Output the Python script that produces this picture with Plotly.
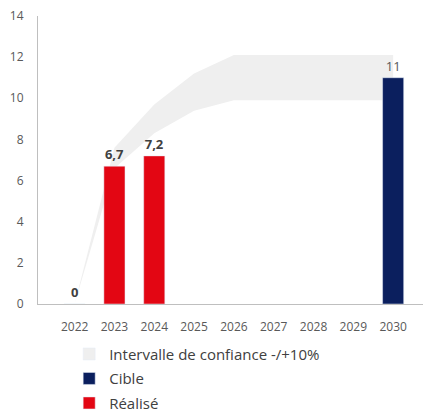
import plotly.graph_objects as go

years = [2022, 2023, 2024, 2025, 2026, 2027, 2028, 2029, 2030]
realise = [0, 6.7, 7.2, None, None, None, None, None, None]
cible = [None, None, None, None, None, None, None, None, 11]
band_low = [0, 6.6, 8.3, 9.4, 9.9, 9.9, 9.9, 9.9, 9.9]
band_high = [0, 7.6, 9.7, 11.2, 12.1, 12.1, 12.1, 12.1, 12.1]
y_ticks = [0, 2, 4, 6, 8, 10, 12, 14]

def fmt(v):
    if v is None:
        return ""
    return ("%g" % v).replace(".", ",")

FONT = "Open Sans"
RED = "#E30613"
NAVY = "#0B1F5E"
BAND = "#EFEFEF"
BAND_NAME = "Intervalle de confiance -/+10%"

fig = go.Figure()
# band on the base subplot (drawn first, underneath)
fig.add_trace(go.Scatter(x=years, y=band_low, mode="lines", line=dict(width=0, color=BAND),
                         showlegend=False, hoverinfo="skip", legendgroup="b"))
fig.add_trace(go.Scatter(x=years, y=band_high, mode="lines", line=dict(width=0, color=BAND),
                         fill="tonexty", fillcolor=BAND, name=BAND_NAME,
                         showlegend=False, legendgroup="b"))
# square legend key for the band
fig.add_trace(go.Bar(x=[None], y=[None], name=BAND_NAME, marker_color=BAND, yaxis="y2",
                     legendgroup="b", legendrank=1, hoverinfo="skip"))
# bars on an overlaying y axis so they are drawn on top of the band
fig.add_trace(go.Bar(x=years, y=realise, name="Réalisé", marker_color=RED, width=0.53,
                     yaxis="y2",
                     text=[fmt(v) for v in realise], textposition="outside", cliponaxis=False,
                     textfont=dict(family=FONT, size=13, color="#404040", weight="bold"),
                     legendgroup="r", legendrank=3))
fig.add_trace(go.Bar(x=years, y=cible, name="Cible", marker_color=NAVY, width=0.53,
                     yaxis="y2",
                     text=[fmt(v) for v in cible], textposition="outside", cliponaxis=False,
                     textfont=dict(family=FONT, size=13, color="#595959"),
                     legendgroup="c", legendrank=2))

fig.update_layout(
    width=425, height=414,
    margin=dict(l=38, r=2, t=16, b=110, autoexpand=False),
    paper_bgcolor="white", plot_bgcolor="white",
    barmode="overlay",
    font=dict(family=FONT, size=12, color="#595959"),
    showlegend=True,
    legend=dict(orientation="v", x=0.081, xanchor="left", y=-0.117, yanchor="top",
                font=dict(family=FONT, size=15, color="#404040"),
                tracegroupgap=2, bgcolor="rgba(0,0,0,0)"),
    xaxis=dict(range=[2021.08, 2030.75], tickmode="array", tickvals=years,
               ticktext=[str(y) for y in years], showline=True, linecolor="#BFBFBF",
               linewidth=1, showgrid=False, zeroline=False, ticks="",
               tickfont=dict(size=12, color="#595959"), ticklabelstandoff=12),
    yaxis=dict(range=[0, 14], tickmode="array", tickvals=y_ticks, showline=True,
               linecolor="#BFBFBF", linewidth=1, showgrid=False, zeroline=False, ticks="",
               tickfont=dict(size=12, color="#595959"), ticklabelstandoff=11),
    yaxis2=dict(range=[0, 14], overlaying="y", visible=False, showgrid=False,
                zeroline=False),
)

fig.write_html("out.html", config={"displayModeBar": False},
               post_script="document.body.style.margin='0';")
